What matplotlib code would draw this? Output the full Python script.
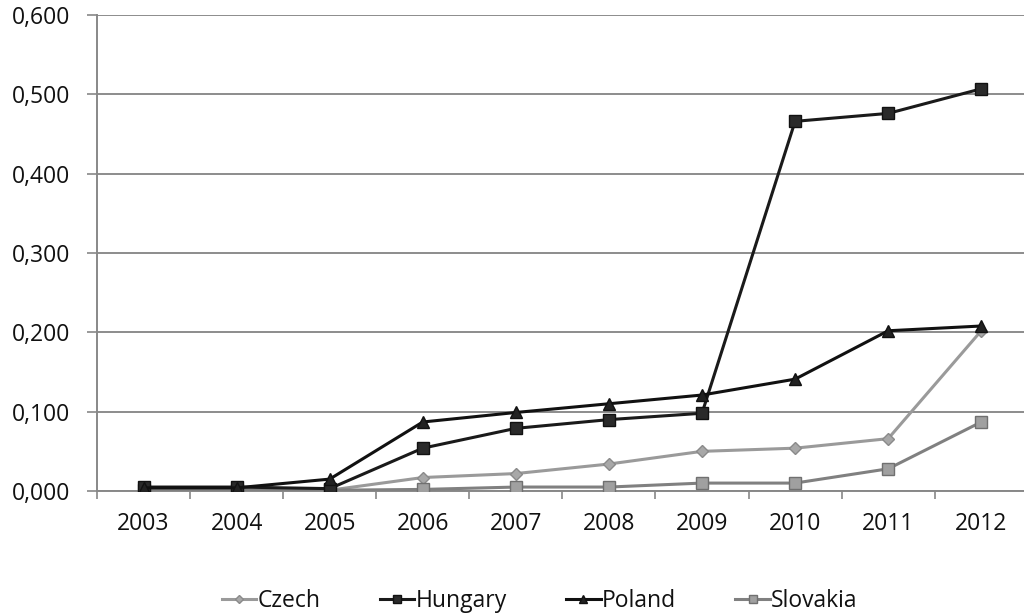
import numpy as np
import matplotlib.pyplot as plt
from matplotlib.ticker import FuncFormatter, MultipleLocator

years = ["2003", "2004", "2005", "2006", "2007", "2008", "2009", "2010", "2011", "2012"]

czech = [0.001, 0.001, 0.001, 0.017, 0.022, 0.034, 0.050, 0.054, 0.066, 0.202]
hungary = [0.005, 0.005, 0.003, 0.054, 0.079, 0.090, 0.098, 0.466, 0.476, 0.507]
poland = [0.004, 0.004, 0.015, 0.087, 0.099, 0.110, 0.121, 0.141, 0.202, 0.208]
slovakia = [0.001, 0.001, 0.001, 0.002, 0.005, 0.005, 0.010, 0.010, 0.028, 0.087]

plt.rcParams['font.family'] = ['Open Sans', 'DejaVu Sans']

fig = plt.figure(figsize=(10.24, 6.16), dpi=100)
ax = fig.add_axes([0.0947, 0.2029, 0.909, 0.7727])

x = np.arange(len(years))

ax.plot(x, czech, color="#9a9a9a", lw=2.2, marker="D", ms=6,
        mfc="#a8a8a8", mec="#8a8a8a", label="Czech", zorder=3)
ax.plot(x, hungary, color="#1a1a1a", lw=2.2, marker="s", ms=8,
        mfc="#2a2a2a", mec="#111111", label="Hungary", zorder=4)
ax.plot(x, poland, color="#111111", lw=2.2, marker="^", ms=9,
        mfc="#222222", mec="#111111", label="Poland", zorder=5)
ax.plot(x, slovakia, color="#808080", lw=2.2, marker="s", ms=9,
        mfc="#a0a0a0", mec="#707070", label="Slovakia", zorder=3)

ax.set_xlim(-0.5, 9.5)
ax.set_ylim(0, 0.6)
ax.yaxis.set_major_locator(MultipleLocator(0.1))
ax.yaxis.set_major_formatter(FuncFormatter(lambda v, p: f"{v:.3f}".replace(".", ",")))

ax.set_xticks(x)
ax.set_xticklabels(years)
ax.set_xticks(np.arange(-0.5, 10, 1), minor=True)
ax.tick_params(axis="x", which="major", length=0, pad=15, labelsize=16.5, labelcolor="#111111")
ax.tick_params(axis="x", which="minor", length=6, width=1.2, color="#888888", direction="out")
ax.tick_params(axis="y", length=7, width=1.2, color="#888888", pad=12, labelsize=16.5,
               labelcolor="#111111")

ax.grid(axis="y", color="#8c8c8c", lw=1.4)
ax.set_axisbelow(True)
for side in ["top", "right"]:
    ax.spines[side].set_visible(False)
ax.spines["left"].set_color("#888888")
ax.spines["left"].set_linewidth(1.4)
ax.spines["bottom"].set_color("#888888")
ax.spines["bottom"].set_linewidth(1.4)

fig.legend(loc="center", bbox_to_anchor=(0.527, 0.024), ncol=4, frameon=False,
           fontsize=16.5, handlelength=1.5, handletextpad=0.05, columnspacing=2.6,
           markerscale=0.7, labelcolor="#111111")

fig.savefig("out.png", dpi=100)
